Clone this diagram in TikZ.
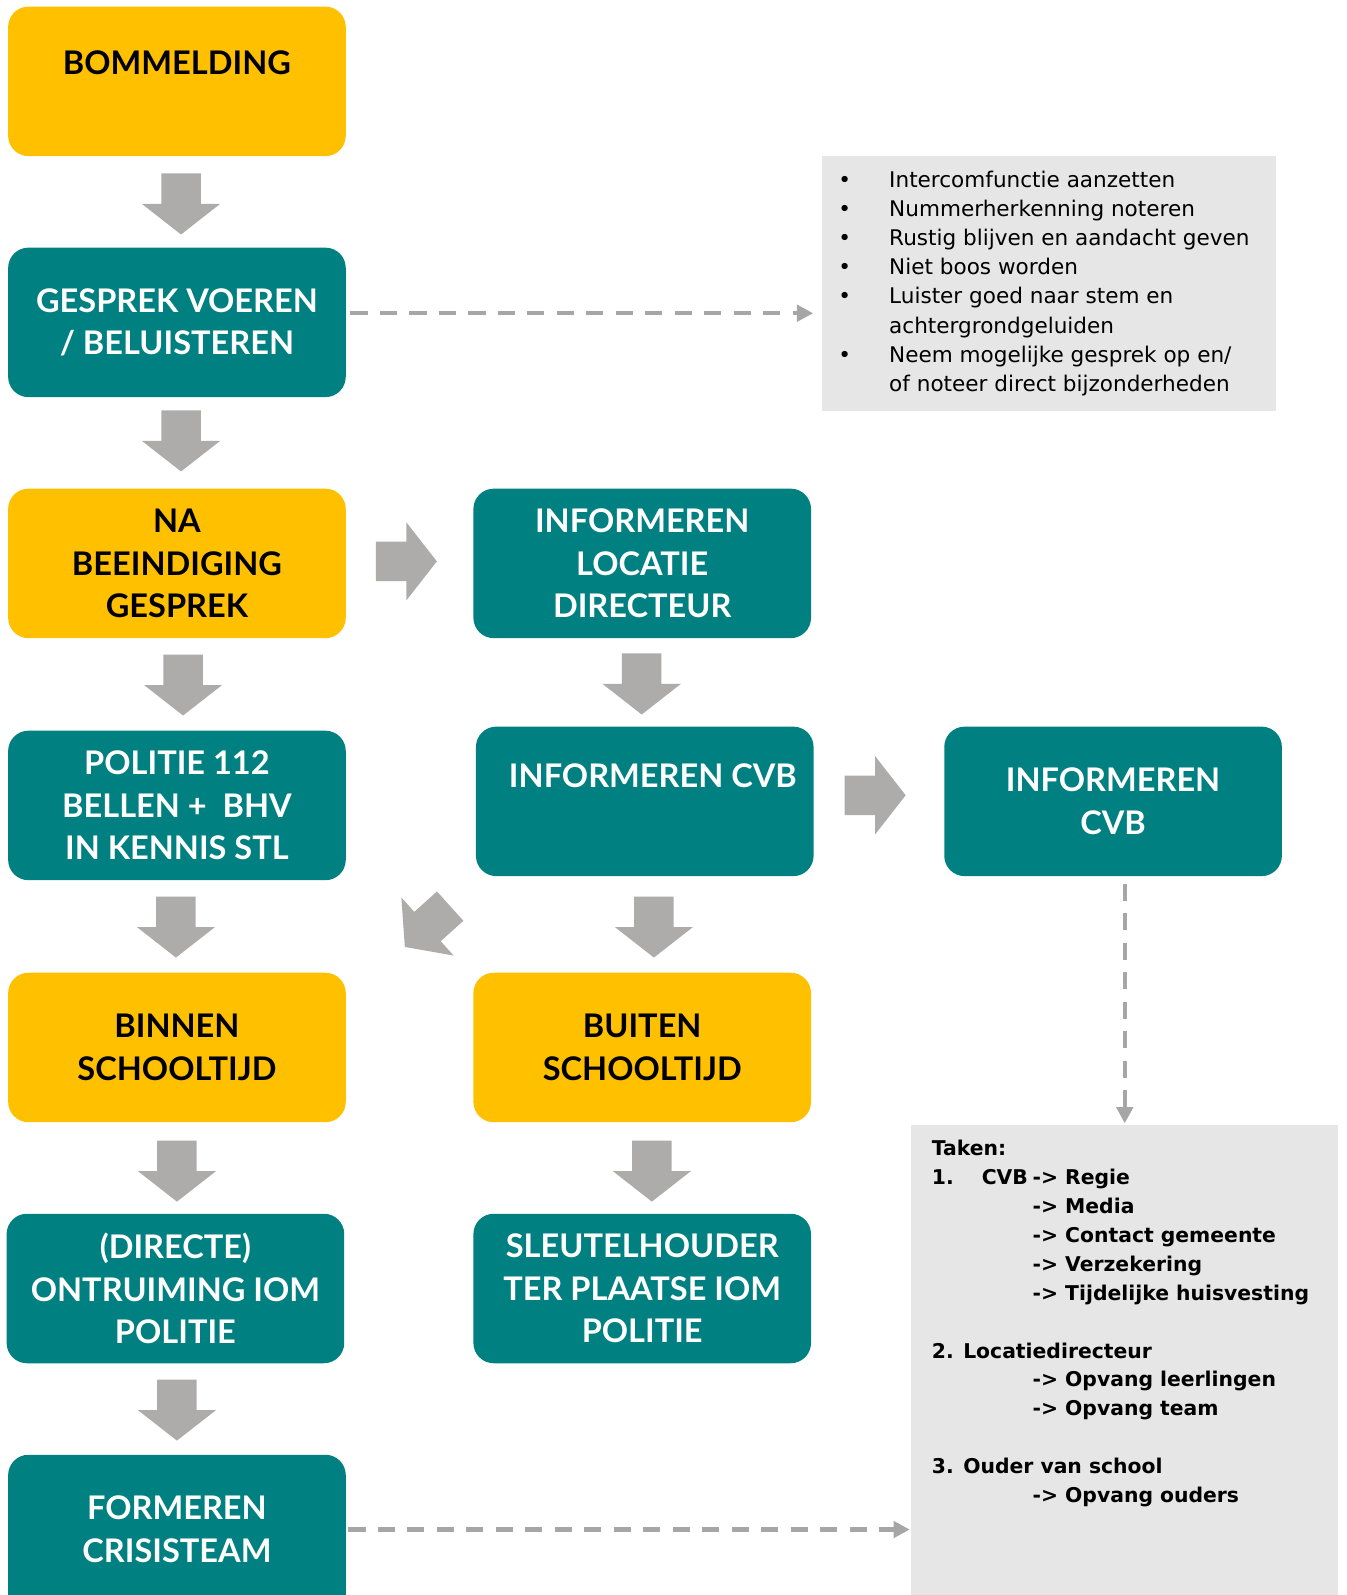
\documentclass[tikz,border=0pt]{standalone}
\usepackage{fontspec}
\setmainfont{Lato}
\newfontfamily\notefont{DejaVu Sans}
\usetikzlibrary{arrows.meta, shapes.arrows}

\definecolor{stepyellow}{HTML}{FFC000}
\definecolor{stepteal}{HTML}{008080}
\definecolor{flowgrey}{HTML}{AEABAB}
\definecolor{notegrey}{HTML}{E6E6E6}
\definecolor{dashgrey}{HTML}{A6A6A6}

\begin{document}
\begin{tikzpicture}[x=0.5pt, y=-0.5pt]
\useasboundingbox (0,0) rectangle (1324.5,1568.4);

% grey note boxes
\begin{scope}[every node/.style={rectangle, fill=notegrey, inner sep=0pt}]
    \node (tips) at (1031.5, 278.5) [minimum width=223.5pt, minimum height=125.5pt] {};
    \node (taken) at (1106, 1337.2) [minimum width=210pt, minimum height=231.2pt] {};
\end{scope}

\begin{scope}[every node/.style={inner sep=0pt, align=left, anchor=north west}]
    \node (tipstext) at (824, 168) [font=\notefont\fontsize{10.6}{14.3}\selectfont] {%
        \makebox[25pt][l]{•}Intercomfunctie aanzetten\\
        \makebox[25pt][l]{•}Nummerherkenning noteren\\
        \makebox[25pt][l]{•}Rustig blijven en aandacht geven\\
        \makebox[25pt][l]{•}Niet boos worden\\
        \makebox[25pt][l]{•}Luister goed naar stem en\\
        \hspace*{25pt}achtergrondgeluiden\\
        \makebox[25pt][l]{•}Neem mogelijke gesprek op en/\\
        \hspace*{25pt}of noteer direct bijzonderheden};

    \node (takentext) at (916, 1121) [font=\notefont\bfseries\fontsize{10}{14.2}\selectfont] {%
        Taken:\\
        \makebox[24.5pt][l]{1.}\makebox[25pt][l]{CVB}-> Regie\\
        \hspace*{49.5pt}-> Media\\
        \hspace*{49.5pt}-> Contact gemeente\\
        \hspace*{49.5pt}-> Verzekering\\
        \hspace*{49.5pt}-> Tijdelijke huisvesting\\[14.2pt]
        2. Locatiedirecteur\\
        \hspace*{49.5pt}-> Opvang leerlingen\\
        \hspace*{49.5pt}-> Opvang team\\[14.2pt]
        3. Ouder van school\\
        \hspace*{49.5pt}-> Opvang ouders};
\end{scope}

% the last step runs off the page
\fill[stepteal] (8, 1520) rectangle (340, 1568.4);

% flow steps
\begin{scope}[
    every node/.style={rectangle, rounded corners=10pt, minimum width=166pt, minimum height=73.5pt,
        inner sep=0pt, align=center, font=\bfseries\fontsize{16}{21}\selectfont},
    yellowbox/.style={fill=stepyellow, text=black},
    tealbox/.style={fill=stepteal, text=white}]
    \node (bom) at (174, 80) [yellowbox] {BOMMELDING\\[-3pt]~};
    \node (gesprek) at (174, 317) [tealbox] {GESPREK VOEREN\\/ BELUISTEREN};
    \node (na) at (174, 554) [yellowbox] {NA\\BEEINDIGING\\GESPREK};
    \node (locdir) at (631.5, 554) [tealbox] {INFORMEREN\\LOCATIE\\DIRECTEUR};
    \node (politie) at (174, 792) [tealbox] {POLITIE 112\\BELLEN +\ \ BHV\\IN KENNIS STL};
    \node (cvbmid) at (634, 788) [tealbox] {\hspace*{8pt}INFORMEREN CVB\\[4pt]~};
    \node (cvbright) at (1094.5, 788) [tealbox] {INFORMEREN\\CVB};
    \node (binnen) at (174, 1030) [yellowbox] {BINNEN\\SCHOOLTIJD};
    \node (buiten) at (631.5, 1030) [yellowbox] {BUITEN\\SCHOOLTIJD};
    \node (directe) at (172.5, 1267) [tealbox] {(DIRECTE)\\ONTRUIMING IOM\\POLITIE};
    \node (sleutel) at (631.5, 1267) [tealbox] {SLEUTELHOUDER\\TER PLAATSE IOM\\POLITIE};
    \node (formeren) at (174, 1504) [tealbox] {FORMEREN\\CRISISTEAM};
\end{scope}

% block arrows
\begin{scope}[every node/.style={single arrow, fill=flowgrey, inner xsep=0pt, inner ysep=9.5pt,
        minimum height=30pt, minimum width=38pt, single arrow head extend=9.5pt,
        single arrow tip angle=104}]
    \node (a1) at (178, 193) [rotate=-90] {};
    \node (a2) at (178, 426) [rotate=-90] {};
    \node (a3) at (392, 552) {};
    \node (a4) at (180, 666) [rotate=-90] {};
    \node (a5) at (631, 665) [rotate=-90] {};
    \node (a6) at (853, 782) {};
    \node (a7) at (173, 904) [rotate=-90] {};
    \node (a8) at (426, 906) [rotate=222] {};
    \node (a9) at (643, 904) [rotate=-90] {};
    \node (a10) at (174, 1144) [rotate=-90] {};
    \node (a11) at (641, 1144) [rotate=-90] {};
    \node (a12) at (174, 1379) [rotate=-90] {};
\end{scope}

% dashed links to the notes
\begin{scope}[every path/.style={draw=dashgrey, line width=2pt, dash pattern=on 8.5pt off 6pt},
              >={Triangle[length=8pt, width=8pt]}]
    \draw [->, shorten <=2pt, shorten >=4pt] ([yshift=4.5pt]gesprek.east) -- ([yshift=4.5pt]gesprek.east -| tips.west);
    \draw [->, shorten <=3.5pt, shorten >=0.5pt] (cvbright.south -| taken.north) -- (taken.north);
    \draw [->, shorten <=1pt, shorten >=0.5pt] (formeren.east) -- (formeren.east -| taken.west);
\end{scope}
\end{tikzpicture}
\end{document}
